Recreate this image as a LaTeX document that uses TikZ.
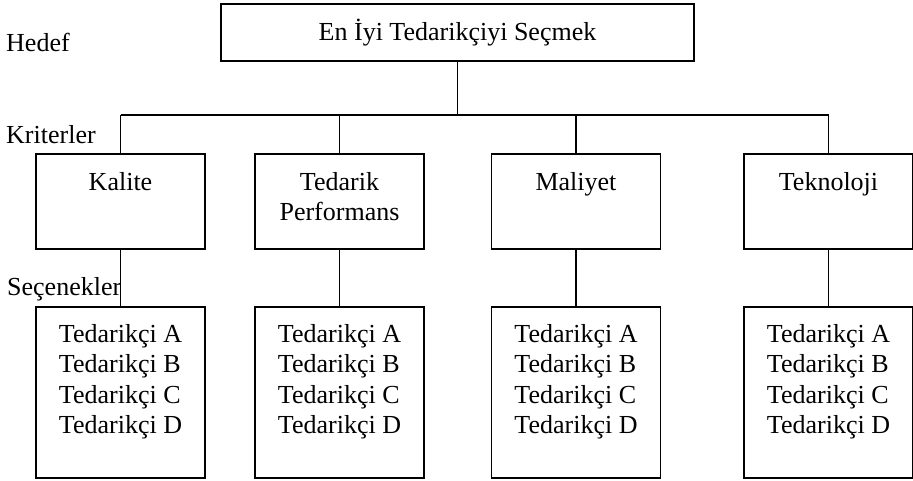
\documentclass[tikz,border=0pt]{standalone}
\usepackage{fontspec}
\setmainfont{Liberation Serif}
\begin{document}
\begin{tikzpicture}[x=1pt,y=-1pt,
  box/.style={draw,line width=1.1pt,inner sep=0pt},
  crit/.style={box,minimum width=169pt,minimum height=95pt},
  opt/.style={box,minimum width=169pt,minimum height=171pt},
  lbl/.style={inner sep=0pt,font=\fontsize{26}{30}\selectfont},
  conn/.style={line width=1.1pt}]
\useasboundingbox (0,0) rectangle (913,480);
% goal
\node[box,minimum width=473pt,minimum height=57pt,font=\fontsize{26}{30}\selectfont] (goal) at (457.5,32.5) {En İyi Tedarikçiyi Seçmek};
% side labels
\node[lbl,anchor=base west] (hedef) at (6,51) {Hedef};
\node[lbl,anchor=base west] (krit) at (6,143) {Kriterler};
\node[lbl,anchor=base west] (secen) at (7,295) {Seçenekler};
% criteria boxes
\node[crit] (c1) at (120.5,201.5) {};
\node[crit] (c2) at (339.5,201.5) {};
\node[crit] (c3) at (576,201.5) {};
\node[crit] (c4) at (828.5,201.5) {};
\node[lbl,anchor=north,align=center] (t1) at (120.5,172) {Kalite};
\node[lbl,anchor=north,align=center] (t2) at (339.5,172) {Tedarik\\Performans};
\node[lbl,anchor=north,align=center] (t3) at (576,172) {Maliyet};
\node[lbl,anchor=north,align=center] (t4) at (828.5,172) {Teknoloji};
% option boxes
\node[opt] (o1) at (120.5,392.5) {};
\node[opt] (o2) at (339.5,392.5) {};
\node[opt] (o3) at (576,392.5) {};
\node[opt] (o4) at (828.5,392.5) {};
\foreach \i/\x in {1/120.5,2/339.5,3/576,4/828.5}{
  \node[lbl,anchor=north,align=left,font=\fontsize{26}{30.5}\selectfont] (s\i) at (\x,324) {Tedarikçi A\\Tedarikçi B\\Tedarikçi C\\Tedarikçi D};
}
% connectors
\coordinate (bus) at (457.5,115);
\draw[conn] (goal.south) -- (bus);
\draw[conn] (c1.north |- bus) -- (c4.north |- bus);
\foreach \i in {1,2,3,4}{
  \draw[conn] (c\i.north |- bus) -- (c\i.north);
  \draw[conn] (c\i.south) -- (o\i.north);
}
\end{tikzpicture}
\end{document}
